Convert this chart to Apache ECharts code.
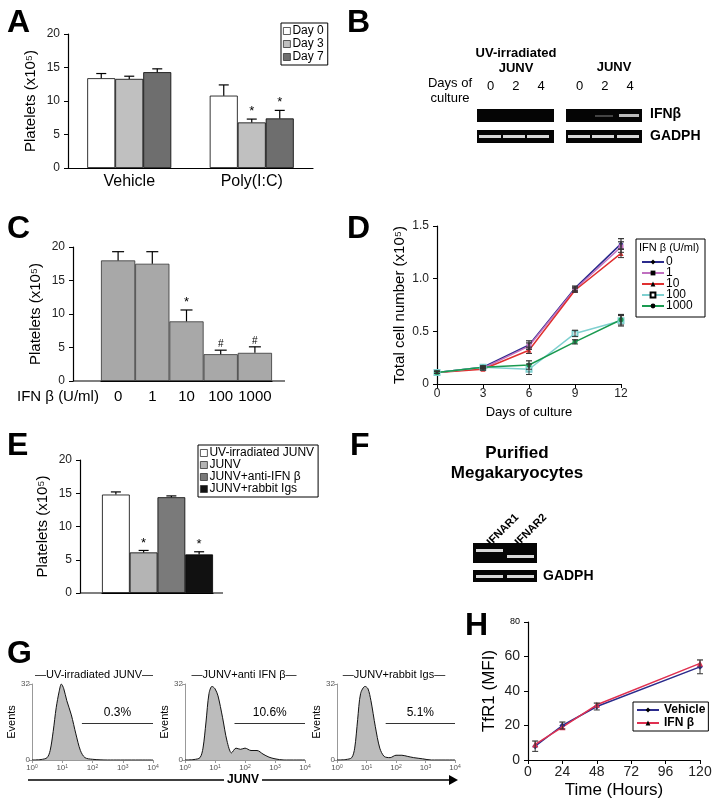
<!DOCTYPE html>
<html><head><meta charset="utf-8">
<script src="https://cdn.jsdelivr.net/npm/echarts@6/dist/echarts.min.js"></script>
<style>html,body{margin:0;background:#fff}#c{width:720px;height:800px}</style>
</head><body><div id="c"></div>
<script>
var dom = document.getElementById("c");
var myChart = echarts.init(dom);

// A
var aCats = ['Vehicle', 'Poly(I:C)'];
var aNames = ['Day 0', 'Day 3', 'Day 7'];
var aVals = [[13.4, 10.8], [13.3, 6.8], [14.3, 7.4]];
var aErr = [[0.7, 1.6], [0.4, 0.5], [0.5, 1.2]];
var aStar = [[0, 0], [0, 1], [0, 1]];
var aColors = ['#ffffff', '#c0c0c0', '#6e6e6e'];
// C
var cCats = ['0', '1', '10', '100', '1000'];
var cVals = [18.0, 17.5, 8.9, 4.0, 4.2];
var cErr = [1.3, 1.8, 1.7, 0.6, 0.9];
var cMark = ['', '', '*', '#', '#'];
// D
var dDays = [0, 3, 6, 9, 12];
var dNames = ['0', '1', '10', '100', '1000'];
var dVals = [
	[0.11, 0.16, 0.37, 0.91, 1.33],
	[0.11, 0.15, 0.36, 0.90, 1.30],
	[0.11, 0.14, 0.32, 0.89, 1.24],
	[0.11, 0.16, 0.14, 0.48, 0.60],
	[0.11, 0.16, 0.18, 0.40, 0.61]
];
var dErr = [
	[0.01, 0.01, 0.04, 0.02, 0.05],
	[0.01, 0.01, 0.03, 0.02, 0.05],
	[0.01, 0.01, 0.03, 0.02, 0.04],
	[0.01, 0.01, 0.05, 0.03, 0.05],
	[0.01, 0.01, 0.04, 0.02, 0.05]
];
var dColors = ['#2b2b8c', '#c070c0', '#e03030', '#7fd0d0', '#1a9a50'];
var dSymbols = ['diamond', 'rect', 'triangle', 'emptyRect', 'circle'];
// E
var eNames = ['UV-irradiated JUNV', 'JUNV', 'JUNV+anti-IFN β', 'JUNV+rabbit Igs'];
var eVals = [14.8, 6.1, 14.4, 5.8];
var eErr = [0.4, 0.3, 0.2, 0.4];
var eStar = ['', '*', '', '*'];
var eColors = ['#ffffff', '#b4b4b4', '#7a7a7a', '#111111'];
// G histograms: [log decade, events]
var gTitles = ['UV-irradiated JUNV', 'JUNV+anti IFN β', 'JUNV+rabbit Igs'];
var gPct = ['0.3%', '10.6%', '5.1%'];
var gHist = [
	[[0, 0], [0.3, 0.2], [0.5, 1], [0.6, 4], [0.7, 12], [0.8, 22], [0.9, 29], [0.97, 32], [1.05, 30], [1.15, 25], [1.3, 19], [1.45, 11], [1.6, 4], [1.75, 1], [2, 0.3], [2.5, 0], [4, 0]],
	[[0, 0], [0.3, 0.2], [0.5, 1], [0.6, 5], [0.7, 16], [0.8, 28], [0.9, 31], [1.0, 30], [1.1, 27], [1.25, 18], [1.4, 8], [1.55, 3], [1.7, 5], [1.85, 4.5], [2.0, 5], [2.2, 4], [2.4, 4], [2.6, 2.5], [2.8, 1.2], [3.0, 0.5], [3.3, 0], [4, 0]],
	[[0, 0], [0.3, 0.2], [0.5, 1], [0.6, 5], [0.7, 17], [0.8, 28], [0.95, 31], [1.05, 30], [1.15, 25], [1.3, 14], [1.45, 5], [1.6, 1.5], [1.8, 1], [2.0, 2], [2.2, 2], [2.4, 1.5], [2.6, 1], [2.9, 0.5], [3.2, 0], [4, 0]]
];
var gGate = [1.65, 1.65, 1.65];
// H
var hHours = [5, 24, 48, 120];
var hVeh = [8, 20, 31, 54];
var hIfn = [9, 19, 32, 56];
var hErr = [3, 2, 2, 4];

var ax = { lineStyle: { color: '#000', width: 1.2 } };
var tick = { show: true, inside: false, length: 4, lineStyle: { color: '#000' } };
var lab = { color: '#222', fontSize: 12, fontFamily: 'Liberation Sans' };
var nm = { color: '#000', fontSize: 15, fontFamily: 'Liberation Sans' };

function errSeries(gi, pts, width, color) {
	// pts: [x, y, err, pxOffset, mark, both]
	return {
		type: 'custom', xAxisIndex: gi, yAxisIndex: gi, z: 5,
		data: pts,
		renderItem: function (params, api) {
			var x = api.value(0), y = api.value(1), e = api.value(2), off = api.value(3);
			var top = api.coord([x, y + e]), base = api.coord([x, y]);
			var cx = top[0] + off;
			var ch = [
				{ type: 'line', shape: { x1: cx, y1: base[1], x2: cx, y2: top[1] }, style: { stroke: color || '#000', lineWidth: 1.2 } },
				{ type: 'line', shape: { x1: cx - width, y1: top[1], x2: cx + width, y2: top[1] }, style: { stroke: color || '#000', lineWidth: 1.2 } }
			];
			var m = pts[params.dataIndex][4];
			if (m) ch.push({ type: 'text', style: { text: m, x: cx, y: top[1] - 1, textAlign: 'center', textVerticalAlign: 'bottom', fontSize: m === '*' ? 13 : 10, fill: '#000' } });
			if (pts[params.dataIndex][5]) {
				var bot = api.coord([x, y - e]);
				ch.push({ type: 'line', shape: { x1: cx, y1: base[1], x2: cx, y2: bot[1] }, style: { stroke: color, lineWidth: 1 } });
				ch.push({ type: 'line', shape: { x1: cx - width, y1: bot[1], x2: cx + width, y2: bot[1] }, style: { stroke: color, lineWidth: 1 } });
			}
			return { type: 'group', children: ch };
		}
	};
}

var grids = [
	{ left: 68, top: 34, width: 245, height: 134 },   // A 0
	{ left: 101, top: 247, width: 171, height: 134 }, // C 1
	{ left: 437, top: 226, width: 184, height: 158 }, // D 2
	{ left: 102, top: 460, width: 111, height: 133 }, // E 3
	{ left: 528, top: 622, width: 172, height: 140 }, // H 4
	{ left: 32, top: 684, width: 121, height: 76 },   // G 5
	{ left: 185, top: 684, width: 120, height: 76 },  // G 6
	{ left: 337, top: 684, width: 118, height: 76 }   // G 7
];

var xAxes = [
	{ type: 'category', gridIndex: 0, data: aCats, axisLine: ax, axisTick: { show: false }, axisLabel: Object.assign({}, nm, { fontSize: 16, margin: 6 }) },
	{ type: 'category', gridIndex: 1, data: cCats, axisLine: ax, axisTick: { show: false }, axisLabel: Object.assign({}, nm, { margin: 8, interval: 0, hideOverlap: false }) },
	{ type: 'value', gridIndex: 2, min: 0, max: 12, interval: 3, axisLine: ax, axisTick: tick, splitLine: { show: false }, axisLabel: Object.assign({}, lab, { margin: 4 }), name: 'Days of culture', nameLocation: 'middle', nameGap: 22, nameTextStyle: Object.assign({}, nm, { fontSize: 13 }) },
	{ type: 'category', gridIndex: 3, data: eNames, axisLine: ax, axisTick: { show: false }, axisLabel: { show: false } },
	{ type: 'value', gridIndex: 4, min: 0, max: 120, interval: 24, axisLine: ax, axisTick: tick, splitLine: { show: false }, axisLabel: Object.assign({}, lab, { fontSize: 14, margin: 5 }), name: 'Time (Hours)', nameLocation: 'middle', nameGap: 22, nameTextStyle: Object.assign({}, nm, { fontSize: 17 }) }
];
var yAxes = [
	{ type: 'value', gridIndex: 0, min: 0, max: 20, interval: 5, axisLine: Object.assign({ show: true }, ax), axisTick: tick, splitLine: { show: false }, axisLabel: lab, name: 'Platelets (x10⁵)', nameLocation: 'middle', nameGap: 30, nameTextStyle: nm },
	{ type: 'value', gridIndex: 1, offset: 28, min: 0, max: 20, interval: 5, axisLine: Object.assign({ show: true }, ax), axisTick: tick, splitLine: { show: false }, axisLabel: lab, name: 'Platelets (x10⁵)', nameLocation: 'middle', nameGap: 30, nameTextStyle: nm },
	{ type: 'value', gridIndex: 2, min: 0, max: 1.5, interval: 0.5, axisLine: Object.assign({ show: true }, ax), axisTick: tick, splitLine: { show: false }, axisLabel: Object.assign({}, lab, { formatter: function (v) { return v === 0 ? '0' : v.toFixed(1); } }), name: 'Total cell number (x10⁵)', nameLocation: 'middle', nameGap: 30, nameTextStyle: nm },
	{ type: 'value', gridIndex: 3, offset: 22, min: 0, max: 20, interval: 5, axisLine: Object.assign({ show: true }, ax), axisTick: tick, splitLine: { show: false }, axisLabel: lab, name: 'Platelets (x10⁵)', nameLocation: 'middle', nameGap: 30, nameTextStyle: nm },
	{ type: 'value', gridIndex: 4, min: 0, max: 80, interval: 20, axisLine: Object.assign({ show: true }, ax), axisTick: tick, splitLine: { show: false },
		axisLabel: Object.assign({}, lab, { fontSize: 14, formatter: function (v) { return v === 80 ? '{s|80}' : v; }, rich: { s: { fontSize: 9, color: '#000' } } }),
		name: 'TfR1 (MFI)', nameLocation: 'middle', nameGap: 30, nameTextStyle: Object.assign({}, nm, { fontSize: 17 }) }
];
for (var g = 0; g < 3; g++) {
	xAxes.push({ type: 'value', gridIndex: 5 + g, min: 0, max: 4, interval: 1, axisLine: { lineStyle: { color: '#999' } }, axisTick: { show: true, length: 3, lineStyle: { color: '#999' } }, splitLine: { show: false },
		axisLabel: { color: '#555', fontSize: 8, margin: 4, formatter: function (v) { return '10{s|' + v + '}'; }, rich: { s: { fontSize: 5, verticalAlign: 'top', color: '#555' } } } });
	yAxes.push({ type: 'value', gridIndex: 5 + g, min: 0, max: 32, interval: 32, axisLine: { show: true, lineStyle: { color: '#999' } }, axisTick: { show: true, length: 3, lineStyle: { color: '#999' } }, splitLine: { show: false },
		axisLabel: { color: '#555', fontSize: 8, margin: 2 }, name: 'Events', nameLocation: 'middle', nameGap: 12, nameTextStyle: { color: '#000', fontSize: 11 } });
}

var series = [];
// A bars
aNames.forEach(function (n, i) {
	series.push({ name: n, type: 'bar', xAxisIndex: 0, yAxisIndex: 0, data: aVals[i], barWidth: 28, barGap: '0%',
		itemStyle: { color: aColors[i], borderColor: '#000', borderWidth: 0.8 } });
	series.push(errSeries(0, aVals[i].map(function (v, k) { return [k, v, aErr[i][k], (i - 1) * 28, aStar[i][k] ? '*' : '']; }), 5));
});
// C
series.push({ type: 'bar', xAxisIndex: 1, yAxisIndex: 1, data: cVals, barCategoryGap: '0%', itemStyle: { color: '#a8a8a8', borderColor: '#333', borderWidth: 0.8 } });
series.push(errSeries(1, cVals.map(function (v, k) { return [k, v, cErr[k], 0, cMark[k]]; }), 6));
// D
dNames.forEach(function (n, i) {
	series.push({ name: n, type: 'line', xAxisIndex: 2, yAxisIndex: 2, data: dDays.map(function (d, k) { return [d, dVals[i][k]]; }),
		symbol: dSymbols[i], symbolSize: 5, lineStyle: { color: dColors[i], width: 1.5 }, itemStyle: { color: dColors[i] } });
	series.push(errSeries(2, dDays.map(function (d, k) { return [d, dVals[i][k], dErr[i][k], 0, '', 1]; }), 3, '#333'));
});
// E
eNames.forEach(function (n, i) {
	series.push({ name: n, type: 'bar', stack: 'e', xAxisIndex: 3, yAxisIndex: 3, barCategoryGap: '0%',
		data: eVals.map(function (v, k) { return k === i ? v : '-'; }),
		itemStyle: { color: eColors[i], borderColor: '#000', borderWidth: 0.8 } });
});
series.push(errSeries(3, eVals.map(function (v, k) { return [k, v, eErr[k], 0, eStar[k]]; }), 5));
// H
series.push({ name: 'Vehicle', type: 'line', xAxisIndex: 4, yAxisIndex: 4, data: hHours.map(function (h, k) { return [h, hVeh[k]]; }), symbol: 'diamond', symbolSize: 6, lineStyle: { color: '#2b2b8c', width: 1.5 }, itemStyle: { color: '#2b2b8c' } });
series.push({ name: 'IFN β', type: 'line', xAxisIndex: 4, yAxisIndex: 4, data: hHours.map(function (h, k) { return [h, hIfn[k]]; }), symbol: 'triangle', symbolSize: 6, lineStyle: { color: '#e03050', width: 1.5 }, itemStyle: { color: '#e03050' } });
series.push(errSeries(4, hHours.map(function (h, k) { return [h, hVeh[k], hErr[k], 0, '', 1]; }), 3, '#333'));
// G
gHist.forEach(function (hd, g) {
	series.push({ type: 'line', xAxisIndex: 5 + g, yAxisIndex: 5 + g, data: hd, smooth: 0.3, symbol: 'none',
		lineStyle: { color: '#111', width: 1 }, areaStyle: { color: '#a0a0a0' },
		markLine: { silent: true, symbol: ['none', 'none'], lineStyle: { color: '#333', type: 'solid', width: 1 },
			label: { show: true, position: 'middle', formatter: gPct[g], color: '#000', fontSize: 12, distance: 4 },
			data: [[{ coord: [gGate[g], 15.6] }, { coord: [4, 15.6] }]] } });
});

var leg = { orient: 'vertical', icon: 'rect', itemWidth: 7, itemHeight: 7, itemGap: 1, borderColor: '#000', borderWidth: 1, padding: [2, 4, 2, 2], itemStyle: { borderColor: '#333', borderWidth: 0.8 }, textStyle: { fontSize: 12, color: '#000', padding: [0, 0, 0, -3] } };
var legends = [
	Object.assign({}, leg, { left: 281, top: 23, data: aNames }),
	Object.assign({}, leg, { left: 638, top: 256, data: dNames, icon: null, itemStyle: null, itemWidth: 22, itemHeight: 6, itemGap: -1, borderWidth: 0, padding: [0, 3], textStyle: { fontSize: 12, color: '#000', padding: [0, 0, 0, -3] } }),
	Object.assign({}, leg, { left: 198, top: 445, data: eNames, itemGap: 0 }),
	Object.assign({}, leg, { left: 633, top: 702, data: ['Vehicle', 'IFN β'], icon: null, itemStyle: null, itemWidth: 22, itemHeight: 6, itemGap: 1, padding: [2, 3], textStyle: { fontSize: 12, fontWeight: 'bold', color: '#000' } })
];

var big = { fontSize: 32, fontWeight: 'bold', fill: '#000', fontFamily: 'Liberation Sans' };
var bold13 = { fontSize: 13, fontWeight: 'bold', fill: '#000' };
var graphics = [
	{ type: 'text', left: 7, top: 7, style: Object.assign({ text: 'A' }, big) },
	{ type: 'text', left: 347, top: 7, style: Object.assign({ text: 'B' }, big) },
	{ type: 'text', left: 7, top: 213, style: Object.assign({ text: 'C' }, big) },
	{ type: 'text', left: 347, top: 213, style: Object.assign({ text: 'D' }, big) },
	{ type: 'text', left: 7, top: 430, style: Object.assign({ text: 'E' }, big) },
	{ type: 'text', left: 350, top: 430, style: Object.assign({ text: 'F' }, big) },
	{ type: 'text', left: 7, top: 638, style: Object.assign({ text: 'G' }, big) },
	{ type: 'text', left: 465, top: 610, style: Object.assign({ text: 'H' }, big) },
	{ type: 'text', left: 17, top: 389, style: { text: 'IFN β (U/ml)', fontSize: 15, fill: '#000' } },
	// C / E axis extensions
	{ type: 'line', shape: { x1: 73, y1: 381, x2: 285, y2: 381 }, style: { stroke: '#000', lineWidth: 1.2 } },
	{ type: 'line', shape: { x1: 80, y1: 593, x2: 223, y2: 593 }, style: { stroke: '#000', lineWidth: 1.2 } },
	// D legend frame + title
	{ type: 'rect', shape: { x: 636, y: 239, width: 69, height: 78 }, style: { fill: 'none', stroke: '#000', lineWidth: 1 } },
	{ type: 'text', x: 639, y: 242, style: { text: 'IFN β (U/ml)', fontSize: 11, fill: '#000' } },
	// B gel
	{ type: 'text', x: 516, y: 46, style: Object.assign({ text: 'UV-irradiated\nJUNV', textAlign: 'center', lineHeight: 15 }, bold13) },
	{ type: 'text', x: 614, y: 61, style: Object.assign({ text: 'JUNV', textAlign: 'center' }, bold13) },
	{ type: 'text', x: 450, y: 76, style: { text: 'Days of\nculture', fontSize: 13, textAlign: 'center', fill: '#000', lineHeight: 15 } },
	{ type: 'text', x: 487, y: 80, style: { text: '0     2     4', fontSize: 13, fill: '#000' } },
	{ type: 'text', x: 576, y: 80, style: { text: '0     2     4', fontSize: 13, fill: '#000' } },
	{ type: 'rect', shape: { x: 477, y: 109, width: 77, height: 13 }, style: { fill: '#050505' } },
	{ type: 'rect', shape: { x: 566, y: 109, width: 76, height: 13 }, style: { fill: '#050505' } },
	{ type: 'rect', shape: { x: 595, y: 115, width: 18, height: 2 }, style: { fill: '#444' } },
	{ type: 'rect', shape: { x: 619, y: 114, width: 20, height: 3 }, style: { fill: '#bbb' } },
	{ type: 'rect', shape: { x: 477, y: 130, width: 77, height: 13 }, style: { fill: '#050505' } },
	{ type: 'rect', shape: { x: 566, y: 130, width: 76, height: 13 }, style: { fill: '#050505' } },
	{ type: 'text', x: 650, y: 107, style: Object.assign({ text: 'IFNβ' }, bold13, { fontSize: 14 }) },
	{ type: 'text', x: 650, y: 129, style: Object.assign({ text: 'GADPH' }, bold13, { fontSize: 14 }) },
	// F gel
	{ type: 'text', x: 517, y: 443, style: { text: 'Purified\nMegakaryocytes', fontSize: 17, fontWeight: 'bold', textAlign: 'center', fill: '#000', lineHeight: 20 } },
	{ type: 'text', x: 485, y: 540, rotation: Math.PI / 4, style: { text: 'IFNAR1', fontSize: 11, fontWeight: 'bold', fill: '#000' } },
	{ type: 'text', x: 513, y: 540, rotation: Math.PI / 4, style: { text: 'IFNAR2', fontSize: 11, fontWeight: 'bold', fill: '#000' } },
	{ type: 'rect', shape: { x: 473, y: 543, width: 64, height: 20 }, style: { fill: '#050505' } },
	{ type: 'rect', shape: { x: 473, y: 570, width: 64, height: 12 }, style: { fill: '#050505' } },
	{ type: 'text', x: 543, y: 569, style: Object.assign({ text: 'GADPH' }, bold13, { fontSize: 14 }) },
	// G arrow
	{ type: 'line', shape: { x1: 28, y1: 780, x2: 224, y2: 780 }, style: { stroke: '#000', lineWidth: 1.5 } },
	{ type: 'line', shape: { x1: 262, y1: 780, x2: 450, y2: 780 }, style: { stroke: '#000', lineWidth: 1.5 } },
	{ type: 'polygon', shape: { points: [[449, 775], [458, 780], [449, 785]] }, style: { fill: '#000' } },
	{ type: 'text', x: 243, y: 774, style: { text: 'JUNV', fontSize: 12, fontWeight: 'bold', textAlign: 'center', fill: '#000' } }
];
// gel bands
[[479, 135], [503, 135], [527, 135], [568, 135], [592, 135], [617, 135]].forEach(function (b) {
	graphics.push({ type: 'rect', shape: { x: b[0], y: b[1], width: 22, height: 3 }, style: { fill: '#d8d8d8' } });
});
[[476, 549], [507, 555], [476, 575], [507, 575]].forEach(function (b) {
	graphics.push({ type: 'rect', shape: { x: b[0], y: b[1], width: 27, height: 3 }, style: { fill: '#d8d8d8' } });
});
// G titles
[94, 244, 394].forEach(function (cx, g) {
	graphics.push({ type: 'text', x: cx, y: 669, style: { text: '—' + gTitles[g] + '—', fontSize: 11, textAlign: 'center', fill: '#000' } });
});

option = {
	backgroundColor: '#fff',
	animation: false,
	textStyle: { fontFamily: 'Liberation Sans' },
	grid: grids,
	xAxis: xAxes,
	yAxis: yAxes,
	legend: legends,
	series: series,
	graphic: graphics
};
if (option && typeof option === "object") {
	myChart.setOption(option, true);
}
</script></body></html>
